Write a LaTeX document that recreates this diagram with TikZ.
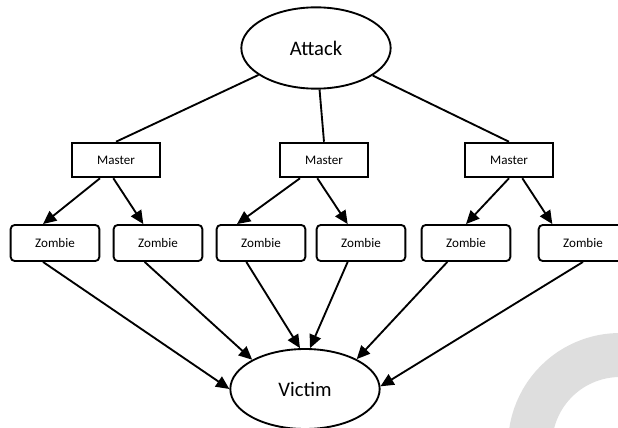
\documentclass[tikz,border=0pt]{standalone}
\usepackage{fontspec}
\setmainfont{Carlito}
\usetikzlibrary{arrows.meta, shapes.geometric}

\begin{document}
\begin{tikzpicture}[x=0.75pt,y=-0.75pt,>={Triangle[length=10pt,width=9pt]},
                black,line width=1.4pt,
                oval/.style={ellipse,draw,inner sep=0pt,minimum width=112pt,minimum height=61pt,
                font=\fontsize{15.5}{18}\selectfont},
                master/.style={rectangle,draw,inner sep=0pt,minimum width=66.5pt,minimum height=26pt,
                font=\fontsize{9.8}{12}\selectfont},
                zombie/.style={master,rounded corners=3pt,minimum height=27pt,text depth=-1pt}]
                \useasboundingbox (0,0) rectangle (618,428);
                \clip (0,0) rectangle (618,428);
                % grey mark in the corner
                \draw[black!13,line width=33pt] (530,445) arc[start angle=180,end angle=70,radius=67.5pt];
                \node[oval] (attack) at (316,48) {Attack};
                \node[master] (m1) at (116,160) {Master};
                \node[master] (m2) at (324,160) {Master};
                \node[master] (m3) at (509,160) {Master};
                \node[zombie] (z1) at (55,243) {Zombie};
                \node[zombie] (z2) at (158,243) {Zombie};
                \node[zombie] (z3) at (261,243) {Zombie};
                \node[zombie] (z4) at (361,243) {Zombie};
                \node[zombie] (z5) at (466,243) {Zombie};
                \node[zombie] (z6) at (583,243) {Zombie};
                \node[oval,minimum height=60pt] (victim) at (305,389) {Victim};
                \foreach \m in {m1,m2,m3}
                \draw (attack) -- (\m.north);
                \foreach \m/\a/\z/\b in {m1/-12/z1/-9,m1/-2/z2/-11,m2/-18/z3/-18,m2/-5/z4/-10,m3/0/z5/0,m3/10/z6/-23}
                \draw[->] ([xshift=\a pt]\m.south) -- ([xshift=\b pt]\z.north);
                \foreach \z/\a/\b in {z1/-9/180,z2/-10/151,z3/-11/97,z4/-10/83,z5/-14/30,z6/0/2}
                \draw[->] ([xshift=\a pt]\z.south) -- (victim.\b);
            \end{tikzpicture}
\end{document}
